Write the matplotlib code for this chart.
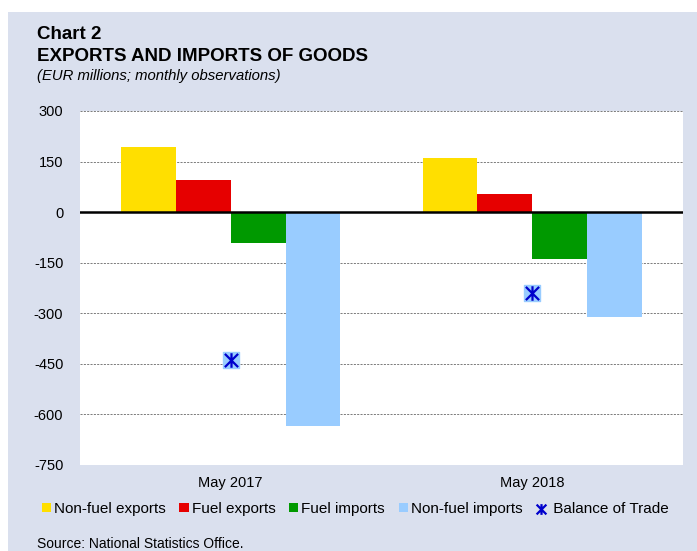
#!/usr/bin/env python3

import numpy as np
import matplotlib
matplotlib.use("Agg")
import matplotlib.pyplot as plt
from matplotlib.patches import Rectangle
from matplotlib.path import Path

plt.rcParams["font.family"] = ["Liberation Sans", "DejaVu Sans"]
plt.rcParams["axes.unicode_minus"] = False

periodos = ["May 2017", "May 2018"]
series = ["Non-fuel exports", "Fuel exports", "Fuel imports", "Non-fuel imports"]
exportacoes_nao_comb = [193, 160]
exportacoes_comb = [94, 53]
importacoes_comb = [-91, -140]
importacoes_nao_comb = [-633, -312]
balanca = [-440, -241]
cores = ["#FFDF00", "#E60000", "#009900", "#99CCFF"]
fundo = "#DAE0EE"

valores = [exportacoes_nao_comb, exportacoes_comb, importacoes_comb, importacoes_nao_comb]

# asterisco: X com uma barra vertical
asterisco = Path(
    [(-1, -1), (1, 1), (-1, 1), (1, -1), (0, -1.1), (0, 1.1)],
    [Path.MOVETO, Path.LINETO, Path.MOVETO, Path.LINETO, Path.MOVETO, Path.LINETO],
)

fig = plt.figure(figsize=(6.97, 5.51), dpi=100)
fig.patches.append(Rectangle((8 / 697, 0), 1, 1 - 12 / 551, transform=fig.transFigure,
                             facecolor=fundo, edgecolor="none", zorder=-10))

ax = fig.add_axes([80 / 697, 1 - 465 / 551, 603 / 697, 354 / 551])
ax.set_facecolor("white")

x = np.arange(len(periodos))
largura = 0.182
for i, (nome, vals, cor) in enumerate(zip(series, valores, cores)):
    ax.bar(x + (i - 1.5) * largura, vals, width=largura, color=cor, label=nome, zorder=2)

ax.scatter(x, balanca, marker="s", s=140, color="#99CCFF", zorder=3)
ax.scatter(x, balanca, marker=asterisco, s=110, color="#0000CC", linewidths=1.6,
           label=" Balance of Trade", zorder=4)

ax.set_xlim(-0.5, 1.5)
ax.set_ylim(-750, 300)
ax.set_yticks(np.arange(-750, 301, 150))
ax.set_xticks(x)
ax.set_xticklabels(periodos, fontsize=10.5)
ax.tick_params(axis="both", length=0, labelsize=10.5)
ax.tick_params(axis="y", pad=12)
ax.tick_params(axis="x", pad=8)
ax.grid(axis="y", color="#666666", linestyle=(0, (2.5, 1.5)), linewidth=0.6, zorder=0)
ax.axhline(0, color="black", linewidth=1.8, zorder=5)
for lado in ax.spines.values():
    lado.set_visible(False)

fig.text(37 / 697, 1 - 39 / 551, "Chart 2", fontsize=13.5, fontweight="bold")
fig.text(37 / 697, 1 - 61 / 551, "EXPORTS AND IMPORTS OF GOODS", fontsize=13.5, fontweight="bold")
fig.text(37 / 697, 1 - 80 / 551, "(EUR millions; monthly observations)", fontsize=10.7, style="italic")

handles, labels = ax.get_legend_handles_labels()
handles = handles[1:] + handles[:1]
labels = labels[1:] + labels[:1]
leg = fig.legend(handles, labels, loc="center", bbox_to_anchor=(355 / 697, 1 - 509 / 551), ncol=5,
                 frameon=False, fontsize=11, handlelength=0.6, handleheight=0.6, handletextpad=0.2,
                 columnspacing=0.9)
leg.legend_handles[-1].set_sizes([60])

fig.text(37 / 697, 1 - 548 / 551, "Source: National Statistics Office.", fontsize=10)

fig.savefig("out.png", dpi=100, facecolor="white")
